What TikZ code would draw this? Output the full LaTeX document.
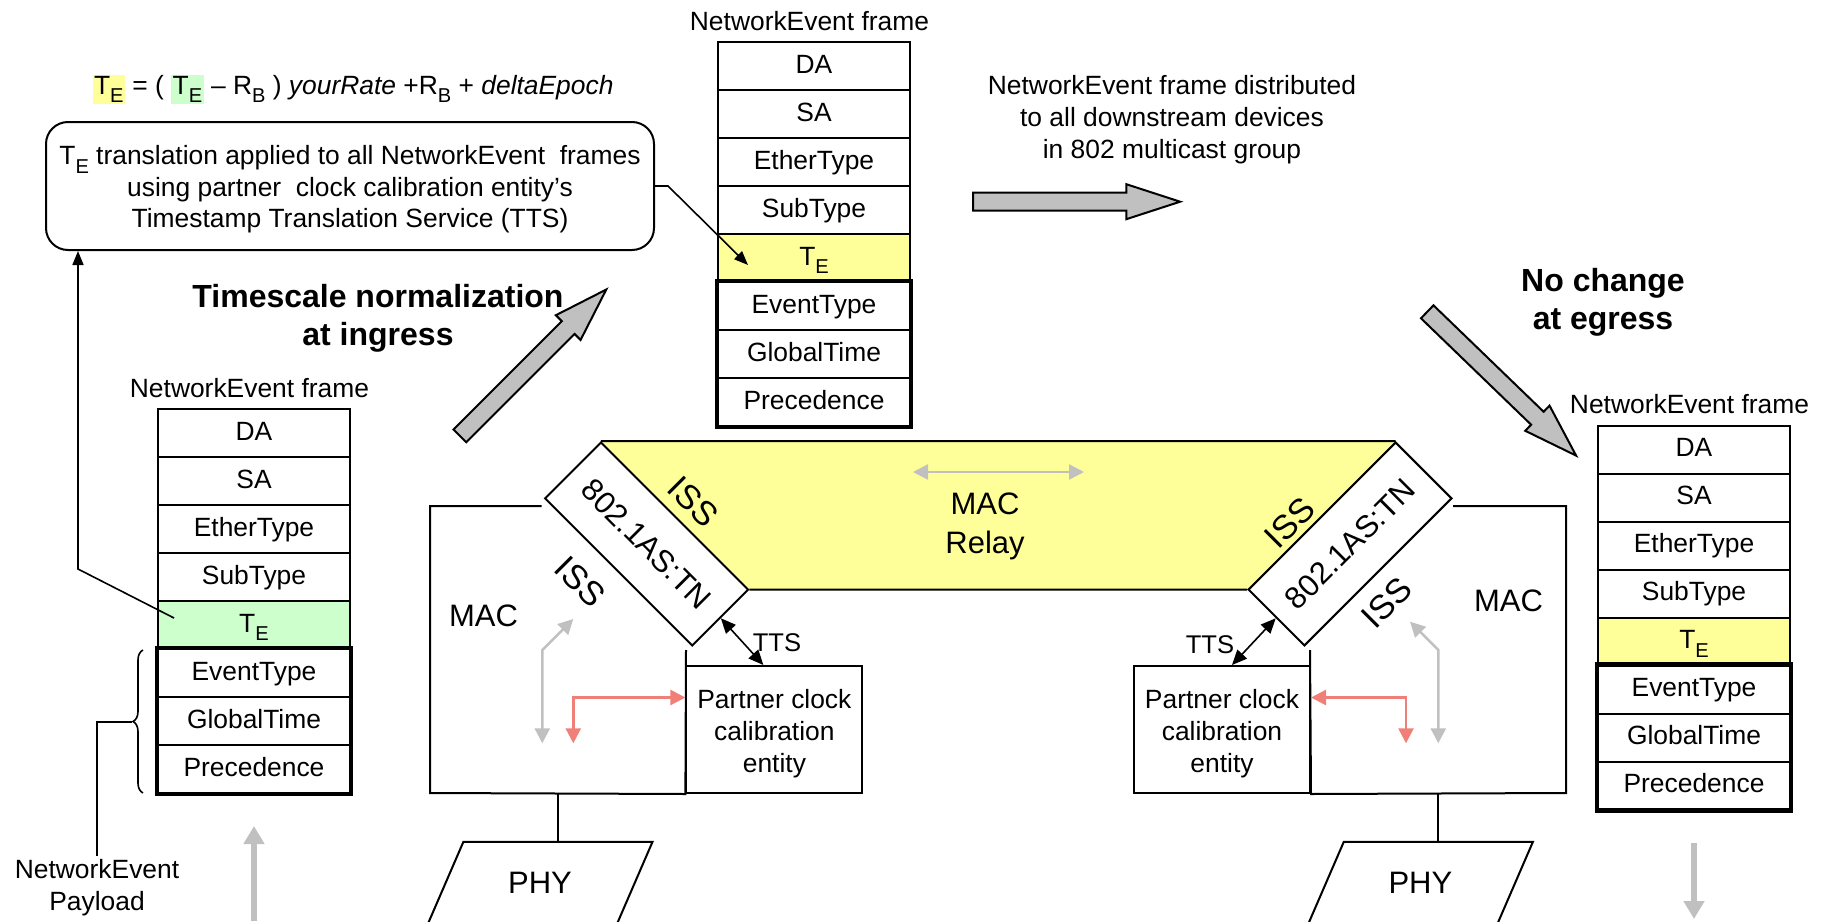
\documentclass[tikz,border=0pt]{standalone}
\usepackage{fontspec}
\setmainfont{Liberation Sans}
\usepackage{graphicx}
\usetikzlibrary{arrows.meta,shapes.arrows,shapes.geometric,decorations.pathreplacing,backgrounds}

\definecolor{teyellow}{HTML}{FFFF99}
\definecolor{tegreen}{HTML}{CCFFCC}
\definecolor{blockgray}{HTML}{C0C0C0}
\definecolor{flowred}{HTML}{EF7F77}

\newcommand{\nsz}{\fontsize{26.4}{32}\selectfont}
\newcommand{\bsz}{\fontsize{31}{38.4}\selectfont}
\newcommand{\isssz}{\fontsize{34}{40}\selectfont}
\newcommand{\hsz}{\fontsize{32}{38.3}\selectfont\bfseries}
\newcommand{\lowsub}[1]{\raisebox{-0.33em}{\scalebox{0.76}{#1}}}

\tikzstyle{field} = [rectangle,draw,line width=2pt,minimum height=48pt,minimum width=192pt,inner sep=0pt,text height=19pt,text depth=5pt]
\tikzstyle{payload} = [line width=4.5pt]
\tikzstyle{port} = [rectangle,draw,fill=white,line width=2pt,minimum width=208pt,minimum height=79pt,inner sep=0pt,font=\bsz]
\tikzstyle{pce} = [rectangle,draw,line width=2pt,minimum width=176pt,minimum height=127pt,align=center,inner sep=0pt]
\tikzstyle{phy} = [trapezium,draw,line width=2pt,trapezium left angle=55,trapezium right angle=125,trapezium stretches=true,minimum width=227pt,minimum height=83pt,inner sep=0pt,font=\bsz]
\tikzstyle{bigarrow} = [single arrow,draw,fill=blockgray,line width=2pt,inner sep=0pt,inner ysep=8pt,minimum width=33pt,minimum height=207pt,single arrow head extend=8.5pt,single arrow tip angle=36]
\tikzstyle{link} = [line width=1.6pt,-{Triangle[length=14pt,width=11pt]}]
\tikzstyle{ttslink} = [line width=1.6pt,{Triangle[length=15pt,width=13pt]}-{Triangle[length=15pt,width=13pt]}]
\tikzstyle{grayflow} = [line width=2.5pt,blockgray,{Triangle[length=15pt,width=15pt]}-{Triangle[length=15pt,width=15pt]}]
\tikzstyle{redflow} = [line width=2.5pt,flowred,{Triangle[length=15pt,width=15pt]}-{Triangle[length=15pt,width=15pt]}]
\tikzstyle{thickgray} = [line width=6pt,blockgray,-{Triangle[length=18pt,width=20pt]}]
\tikzstyle{every node}=[font=\nsz]

\begin{document}
\begin{tikzpicture}[x=1pt,y=-1pt]
    \useasboundingbox (0,0) rectangle (1828,921);
    % formula and TTS note
    \node (form) at (353,89.5) {\setlength{\fboxsep}{1.5pt}\colorbox{teyellow}{T\lowsub{E}} = ( \colorbox{tegreen}{T\lowsub{E}} -- R\lowsub{B} ) \textit{yourRate} +R\lowsub{B} + \textit{deltaEpoch}};
    \node[draw,line width=2pt,rounded corners=22pt,minimum width=608pt,minimum height=128pt,align=center,font={\fontsize{26.4}{31.3}\selectfont}] (tts) at (350,186) {\rule{0pt}{26pt}T\lowsub{E} translation applied to all NetworkEvent\ \ frames\\using partner\ \ clock calibration entity’s\\Timestamp Translation Service (TTS)};
    \node[font=\hsz,align=center] (tsnorm) at (378,318.5) {Timescale normalization\\at ingress};
    \node[font=\hsz,align=center] (nochg) at (1603,302.5) {No change\\at egress};
    \node[align=center] (distxt) at (1172,120) {NetworkEvent frame distributed\\to all downstream devices\\in 802 multicast group};

    % ingress frame
    \begin{scope}
	\node (inhead) at (249.5,388) {NetworkEvent frame};
	\foreach \f [count=\i] in {DA,SA,EtherType,SubType}
	{\node[field] (in\i) at (254,385+48*\i) {\f};}
	\node[field,fill=tegreen] (inTE) at (254,625) {T\lowsub{E}};
	\foreach \f [count=\i from 6] in {EventType,GlobalTime,Precedence}
	{\node[field] (in\i) at (254,385+48*\i) {\f};}
	\draw[payload] (in6.north west) rectangle (in8.south east);
	\draw[decorate,decoration={brace,amplitude=10pt},line width=1.6pt] (143,793) -- (143,650);
	\coordinate (brtip) at (132,722);
	\node[align=center] (plabel) at (97,887.5) {NetworkEvent\\Payload};
	\draw[line width=1.6pt] (brtip) -| (plabel.north);
	\coordinate (inbot) at (254,921);
	\coordinate (inup) at (254,826);
	\draw[thickgray] (inbot) -- (inup);
	\coordinate (bend) at (78,569);
	\draw[link] ([xshift=17pt,yshift=7pt]inTE.west) -- (bend) -- (bend |- tts.south);
    \end{scope}

    % relayed frame
    \begin{scope}
	\node (cehead) at (809.5,21) {NetworkEvent frame};
	\foreach \f [count=\i] in {DA,SA,EtherType,SubType}
	{\node[field] (ce\i) at (814,18+48*\i) {\f};}
	\node[field,fill=teyellow] (ceTE) at (814,258) {T\lowsub{E}};
	\foreach \f [count=\i from 6] in {EventType,GlobalTime,Precedence}
	{\node[field] (ce\i) at (814,18+48*\i) {\f};}
	\draw[payload] (ce6.north west) rectangle (ce8.south east);
	\coordinate (kink) at (668,186);
	\draw[link] (tts.east) -- (kink) -- ([xshift=31pt,yshift=-7pt]ceTE.west);
    \end{scope}

    % egress frame
    \begin{scope}
	\node (eghead) at (1689.5,404.5) {NetworkEvent frame};
	\foreach \f [count=\i] in {DA,SA,EtherType,SubType}
	{\node[field] (eg\i) at (1694,401.5+48*\i) {\f};}
	\node[field,fill=teyellow] (egTE) at (1694,641.5) {T\lowsub{E}};
	\foreach \f [count=\i from 6] in {EventType,GlobalTime,Precedence}
	{\node[field] (eg\i) at (1694,401.5+48*\i) {\f};}
	\draw[payload] (eg6.north west) rectangle (eg8.south east);
	\coordinate (egtop) at (1694,843);
	\coordinate (egbot) at (1694,919);
	\draw[thickgray] (egtop) -- (egbot);
    \end{scope}

    % block arrows
    \node[bigarrow,rotate=45] (ingr) at (523.3,372.5) {};
    \node[bigarrow] (distr) at (1062.8,201.7) {};
    \node[bigarrow,rotate=-44] (egr) at (1491.7,374.1) {};

    % relay
    \node[port,rotate=-45] (ltn) at (646.6,544) {802.1AS:TN\hspace{26pt}};
    \node[port,rotate=45] (rtn) at (1350,544) {802.1AS:TN\hspace{26pt}};
    \begin{pgfonlayer}{background}
	\fill[teyellow] (ltn.north west) -- (rtn.north east) -- (rtn.north west) -- (ltn.north east) -- cycle;
    \end{pgfonlayer}
    \draw[line width=2pt] (ltn.north west) -- (rtn.north east);
    \draw[line width=2pt] (ltn.north east) -- (rtn.north west);
    \node[font=\bsz,align=center] (relay) at (985,526.5) {MAC\\Relay};
    \coordinate (rl) at (913,472);
    \coordinate (rr) at (1084,472);
    \draw[grayflow] (rl) -- (rr);
    \node[font=\isssz,rotate=-45] (liss) at (693,502) {ISS};
    \node[font=\isssz,rotate=-45] (lissb) at (580,582) {ISS};
    \node[font=\isssz,rotate=45] (riss) at (1290,523) {ISS};
    \node[font=\isssz,rotate=45] (rissb) at (1387,603) {ISS};

    % left port
    \node[font=\bsz] (lmac) at (483.5,616) {MAC};
    \node[pce] (lpce) at (774.4,729.5) {\rule{0pt}{28pt}Partner clock\\calibration\\entity};
    \draw[line width=2pt] (541.7,506) -- (430,506) -- (430,793) -- (lpce.south west) -- (686,650);
    \node[phy] (lphy) at (540,883.3) {PHY};
    \coordinate (lmacbot) at (557.7,793);
    \draw[line width=2pt] (lmacbot) -- (lmacbot |- lphy.north);
    \draw[ttslink] (ltn.east) -- ([xshift=-11pt]lpce.north);
    \node[font={\fontsize{25.6}{30}\selectfont}] (ltts) at (777,643) {TTS};
    \draw[grayflow] (573.3,619) -- (542.3,650) -- (542.3,743.3);
    \draw[redflow] (573.3,743.3) |- ([yshift=32pt]lpce.west);

    % right port
    \node[font=\bsz] (rmac) at (1508.6,600.4) {MAC};
    \node[pce] (rpce) at (1222,729.5) {\rule{0pt}{28pt}Partner clock\\calibration\\entity};
    \draw[line width=2pt] (1453,506) -- (1566,506) -- (1566,793) -- (rpce.south east) -- (1310,650);
    \node[phy] (rphy) at (1420.4,883.3) {PHY};
    \coordinate (rmacbot) at (1438.3,793);
    \draw[line width=2pt] (rmacbot) -- (rmacbot |- rphy.north);
    \draw[ttslink] (rtn.west) -- ([xshift=10pt]rpce.north);
    \node[font={\fontsize{25.6}{30}\selectfont}] (rtts) at (1210,645) {TTS};
    \draw[grayflow] (1410,621.7) -- (1438.3,650) -- (1438.3,743.3);
    \draw[redflow] (1406,743.3) |- ([yshift=32pt]rpce.east);
\end{tikzpicture}
\end{document}
